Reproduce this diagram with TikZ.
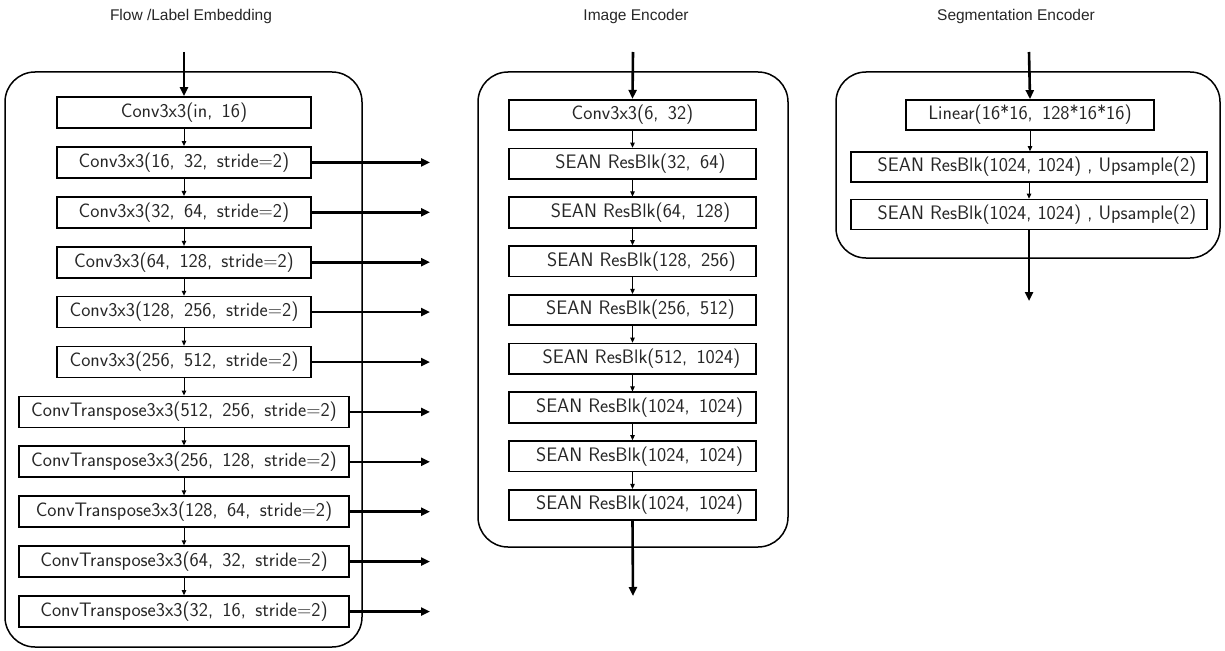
\documentclass[tikz,border=0pt]{standalone}
\usepackage{fontspec}
\newfontfamily\ttlfont{Liberation Sans}
\usetikzlibrary{arrows.meta}
\begin{document}
\begin{tikzpicture}[x=1pt,y=-1pt,
  title/.style={font=\ttlfont\fontsize{15.5}{17}\selectfont, text=black!85},
  outer/.style={draw, line width=1.5pt, rounded corners=30pt},
  blk/.style={draw, line width=1.7pt, inner sep=0pt, minimum height=31pt,
    font=\sffamily\fontsize{19.5}{21}\selectfont, text=black!85},
  thinarr/.style={line width=1pt, -{Triangle[length=5pt,width=4.5pt]}},
  thickarr/.style={line width=2.6pt, -{Triangle[length=9pt,width=8pt]}}]
\useasboundingbox (0,0) rectangle (1225,650);

% titles
\node[title] (t1) at (191,16) {Flow /Label Embedding};
\node[title] (t2) at (636,16) {Image Encoder};
\node[title] (t3) at (1016,16) {Segmentation Encoder};

% ---------- left column ----------
\draw[outer] (5,72) rectangle (362,647);
\coordinate (lin) at (184,52);
\coordinate (lr) at (430,0);
\node[blk, minimum width=254pt] (a1) at (184,112.5) {Conv3x3(in,\, 16)};
\node[blk, minimum width=254pt] (a2) at (184,162.4) {Conv3x3(16,\, 32,\, stride=2)};
\node[blk, minimum width=254pt] (a3) at (184,212.3) {Conv3x3(32,\, 64,\, stride=2)};
\node[blk, minimum width=254pt] (a4) at (184,262.2) {Conv3x3(64,\, 128,\, stride=2)};
\node[blk, minimum width=254pt] (a5) at (184,312.1) {Conv3x3(128,\, 256,\, stride=2)};
\node[blk, minimum width=254pt] (a6) at (184,362.0) {Conv3x3(256,\, 512,\, stride=2)};
\node[blk, minimum width=330pt] (a7) at (184,411.9) {ConvTranspose3x3(512,\, 256,\, stride=2)};
\node[blk, minimum width=330pt] (a8) at (184,461.8) {ConvTranspose3x3(256,\, 128,\, stride=2)};
\node[blk, minimum width=330pt] (a9) at (184,511.7) {ConvTranspose3x3(128,\, 64,\, stride=2)};
\node[blk, minimum width=330pt] (a10) at (184,561.6) {ConvTranspose3x3(64,\, 32,\, stride=2)};
\node[blk, minimum width=330pt] (a11) at (184,611.5) {ConvTranspose3x3(32,\, 16,\, stride=2)};
\draw[thickarr] (lin) -- (a1.north);
\foreach \i [evaluate=\i as \j using int(\i+1)] in {1,...,10} {
  \draw[thinarr] (a\i.south) -- (a\j.north);
}
\foreach \i in {2,...,11} {
  \draw[thickarr] (a\i.east) -- (a\i.east -| lr);
}

% ---------- middle column ----------
\draw[outer] (478,72) rectangle (788,547);
\coordinate (min) at (633,52);
\coordinate (mout) at (633,596);
\node[blk, minimum width=247pt, minimum height=30.5pt] (b1) at (632.5,115) {Conv3x3(6,\, 32)};
\node[blk, minimum width=247pt, minimum height=30.5pt] (b2) at (632.5,163.75) {\hspace{16pt}SEAN ResBlk(32,\, 64)};
\node[blk, minimum width=247pt, minimum height=30.5pt] (b3) at (632.5,212.5) {\hspace{16pt}SEAN ResBlk(64,\, 128)};
\node[blk, minimum width=247pt, minimum height=30.5pt] (b4) at (632.5,261.25) {\hspace{18pt}SEAN ResBlk(128,\, 256)};
\node[blk, minimum width=247pt, minimum height=30.5pt] (b5) at (632.5,310) {\hspace{16pt}SEAN ResBlk(256,\, 512)};
\node[blk, minimum width=247pt, minimum height=30.5pt] (b6) at (632.5,358.75) {\hspace{18pt}SEAN ResBlk(512,\, 1024)};
\node[blk, minimum width=247pt, minimum height=30.5pt] (b7) at (632.5,407.5) {\hspace{14pt}SEAN ResBlk(1024,\, 1024)};
\node[blk, minimum width=247pt, minimum height=30.5pt] (b8) at (632.5,456.25) {\hspace{14pt}SEAN ResBlk(1024,\, 1024)};
\node[blk, minimum width=247pt, minimum height=30.5pt] (b9) at (632.5,505) {\hspace{14pt}SEAN ResBlk(1024,\, 1024)};
\draw[thickarr] (min) -- (b1.north);
\foreach \i [evaluate=\i as \j using int(\i+1)] in {1,...,8} {
  \draw[thinarr] (b\i.south) -- (b\j.north);
}
\draw[thickarr] (b9.south) -- (mout);

% ---------- right column ----------
\draw[outer] (836,72) rectangle (1220,258);
\coordinate (rin) at (1029,52);
\coordinate (rout) at (1029,301);
\node[blk, minimum width=248pt, minimum height=30pt] (c1) at (1030,115) {Linear(16*16,\, 128*16*16)};
\node[blk, minimum width=356pt, minimum height=30pt] (c2) at (1029,167) {\hspace{16pt}SEAN ResBlk(1024, 1024) , Upsample(2)};
\node[blk, minimum width=356pt, minimum height=30pt] (c3) at (1029,214.5) {\hspace{16pt}SEAN ResBlk(1024, 1024) , Upsample(2)};
\draw[thickarr] (rin) -- (c1.north);
\draw[thinarr] (c1.south) -- (c1.south |- c2.north);
\draw[thinarr] (c2.south) -- (c3.north);
\draw[thickarr] (c3.south) -- (rout);
\end{tikzpicture}
\end{document}
